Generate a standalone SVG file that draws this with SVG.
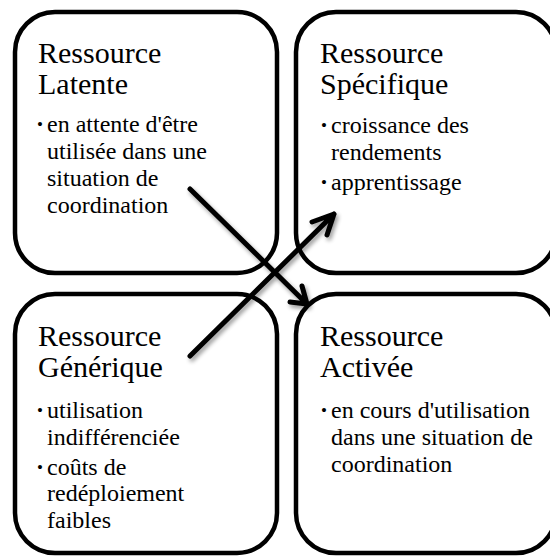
<svg xmlns="http://www.w3.org/2000/svg" width="550" height="556" viewBox="0 0 550 556">
<style>
.box{fill:#fff;stroke:#000;stroke-width:4.5}
.ttl{font-family:"Liberation Serif","Times New Roman",serif;font-size:30px;fill:#000}
.item{font-family:"Liberation Serif","Times New Roman",serif;font-size:24px;fill:#000}
.dot{font-family:"Liberation Serif","Times New Roman",serif;font-size:17px;fill:#000}
.ar{fill:none;stroke:#000;stroke-width:5;stroke-linecap:round;stroke-linejoin:round}
</style>
<defs>
<filter id="sh" x="-20%" y="-20%" width="140%" height="140%">
<feGaussianBlur in="SourceAlpha" stdDeviation="2"/>
<feOffset dx="2" dy="3" result="o"/>
<feComponentTransfer><feFuncA type="linear" slope="0.4"/></feComponentTransfer>
<feMerge><feMergeNode/><feMergeNode in="SourceGraphic"/></feMerge>
</filter>
</defs>
<rect width="550" height="556" fill="#fff"/>
<g id="latente">
<rect class="box" x="15" y="12" width="262" height="261" rx="40"/>
<text class="ttl" x="38" y="63">Ressource</text>
<text class="ttl" x="38" y="94">Latente</text>
<text class="dot" x="37" y="130">•</text>
<text class="item" x="47" y="132">en attente d'être</text>
<text class="item" x="47" y="159">utilisée dans une</text>
<text class="item" x="47" y="186">situation de</text>
<text class="item" x="47" y="213">coordination</text>
</g>
<g id="specifique">
<rect class="box" x="296" y="12" width="260" height="261" rx="40"/>
<text class="ttl" x="320" y="63">Ressource</text>
<text class="ttl" x="320" y="94">Spécifique</text>
<text class="dot" x="321" y="131">•</text>
<text class="item" x="331" y="133">croissance des</text>
<text class="item" x="331" y="160">rendements</text>
<text class="dot" x="321" y="188">•</text>
<text class="item" x="331" y="190">apprentissage</text>
</g>
<g id="generique">
<rect class="box" x="15" y="294" width="262" height="259" rx="40"/>
<text class="ttl" x="38" y="346">Ressource</text>
<text class="ttl" x="38" y="377">Générique</text>
<text class="dot" x="37" y="416">•</text>
<text class="item" x="47" y="418">utilisation</text>
<text class="item" x="47" y="445">indifférenciée</text>
<text class="dot" x="37" y="473">•</text>
<text class="item" x="47" y="475">coûts de</text>
<text class="item" x="47" y="501">redéploiement</text>
<text class="item" x="47" y="528">faibles</text>
</g>
<g id="activee">
<rect class="box" x="296" y="294" width="260" height="259" rx="40"/>
<text class="ttl" x="320" y="346">Ressource</text>
<text class="ttl" x="320" y="377">Activée</text>
<text class="dot" x="321" y="416">•</text>
<text class="item" x="331" y="418">en cours d'utilisation</text>
<text class="item" x="331" y="445">dans une situation de</text>
<text class="item" x="331" y="472">coordination</text>
</g>
<g id="connectors" filter="url(#sh)">
<path class="ar" d="M190 189 L307 304 M290 302 L307 304 L302 286"/>
<path class="ar" d="M190 356 L334 214 M312 222 L334 214 L327 235"/>
</g>
</svg>
